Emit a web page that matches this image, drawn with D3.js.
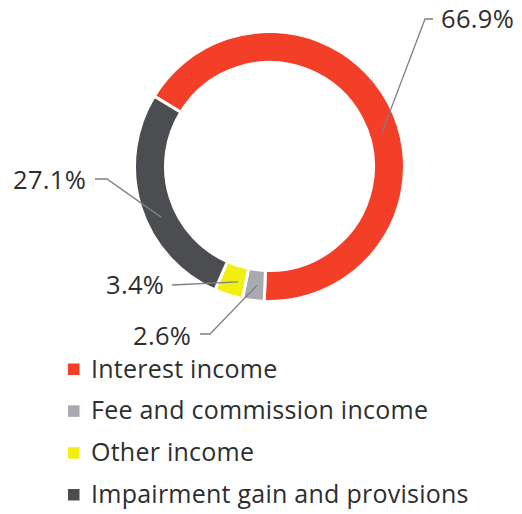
<!DOCTYPE html>
<html>
<head>
<meta charset="utf-8">
<script src="https://cdn.jsdelivr.net/npm/d3@7"></script>
<style>
  html, body { margin: 0; padding: 0; background: #ffffff; }
  svg { display: block; }
</style>
</head>
<body>
<svg id="chart" width="522" height="514"></svg>
<script>
const categories = ["Interest income", "Fee and commission income", "Other income", "Impairment gain and provisions"];
const values = [66.9, 2.6, 3.4, 27.1];
const valueLabels = ["66.9%", "2.6%", "3.4%", "27.1%"];
const colors = ["#f33f27", "#a9a9b1", "#f0ef10", "#4c4d51"];

const svg = d3.select("#chart");
const cx = 269.5, cy = 166.5, R = 135, r = 104;
const font = "'Open Sans', Lato, sans-serif";
const textColor = "#2e2e2e";

const pie = d3.pie().sort(null).value(d => d)
  .startAngle(-58.6 * Math.PI / 180)
  .endAngle((360 - 58.6) * Math.PI / 180);
const arcs = pie(values);
const arc = d3.arc().innerRadius(r).outerRadius(R);

const g = svg.append("g").attr("transform", `translate(${cx},${cy})`);
g.selectAll("path.slice").data(arcs).enter().append("path")
  .attr("class", "slice")
  .attr("d", arc)
  .attr("fill", (d, i) => colors[i])
  .attr("stroke", "#ffffff")
  .attr("stroke-width", 3);

const layout = [
  { elbow: [425, 19], end: [433, 19], text: [441, 28], frac: 0.55 },
  { elbow: [210, 334], end: [200, 334], text: [133, 345], frac: 0.4 },
  { elbow: [172, 285], end: [172, 285], text: [106, 294], frac: 0.3 },
  { elbow: [107, 179], end: [95, 179], text: [13, 189], frac: 0.42 }
];

arcs.forEach((a, i) => {
  const L = layout[i];
  const ang = a.startAngle + (a.endAngle - a.startAngle) * L.frac;
  const rr = (r + R) / 2 - (i === 0 ? 3 : 0);
  const px = cx + rr * Math.sin(ang);
  const py = cy - rr * Math.cos(ang);
  svg.append("polyline")
    .attr("points", [[px, py], L.elbow, L.end].map(p => p.join(",")).join(" "))
    .attr("fill", "none")
    .attr("stroke", "#7d7f84")
    .attr("stroke-width", 1.3);
  svg.append("text")
    .attr("x", L.text[0]).attr("y", L.text[1])
    .attr("font-family", font)
    .attr("font-size", 25.5)
    .attr("letter-spacing", 0.3)
    .attr("fill", textColor)
    .text(valueLabels[i]);
});

const legend = svg.append("g");
const rowY = d3.scalePoint().domain(categories).range([377.5, 503]);
categories.forEach((c, i) => {
  const y = rowY(c);
  legend.append("rect")
    .attr("x", 68).attr("y", y - 14)
    .attr("width", 11.5).attr("height", 11.5)
    .attr("fill", colors[i]);
  legend.append("text")
    .attr("x", 91).attr("y", y)
    .attr("font-family", font)
    .attr("font-size", 25)
    .attr("letter-spacing", 0.25)
    .attr("fill", textColor)
    .text(c);
});
</script>
</body>
</html>
